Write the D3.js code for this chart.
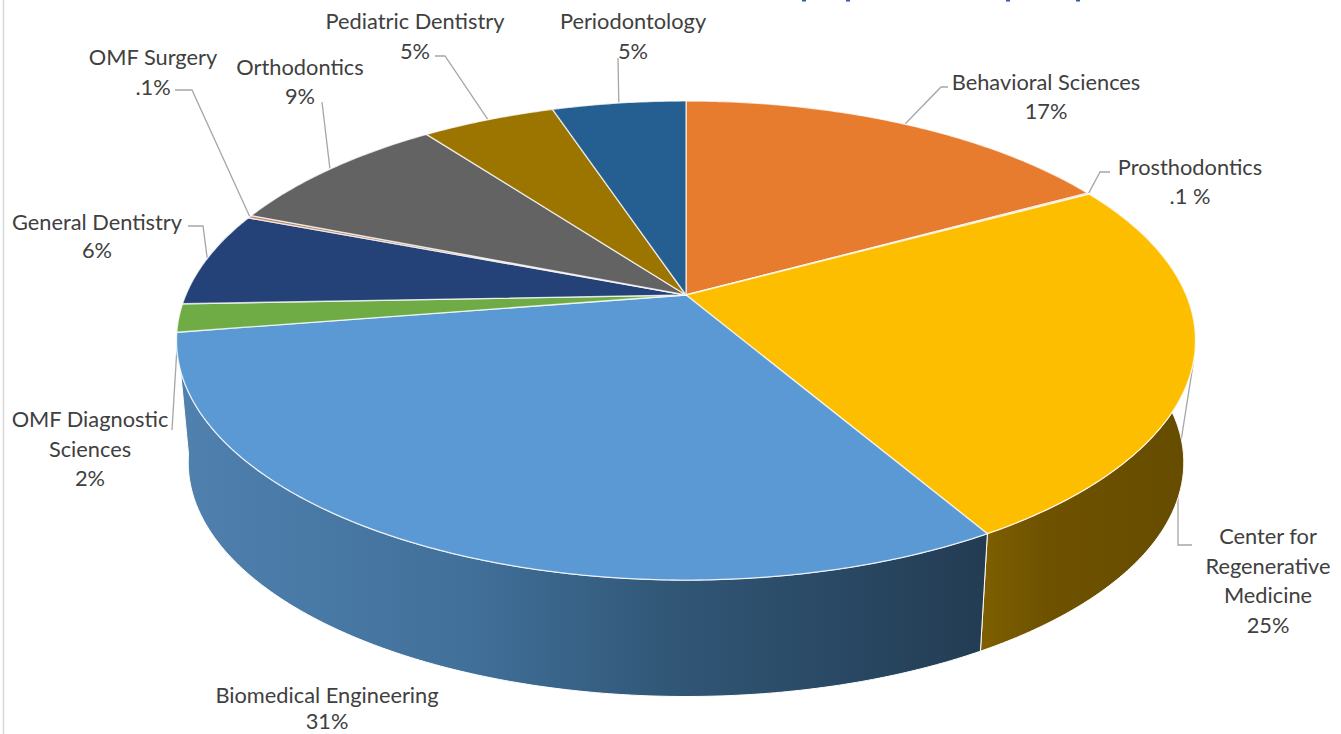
<!DOCTYPE html>
<html>
<head>
<meta charset="utf-8">
<script src="https://cdn.jsdelivr.net/npm/d3@7"></script>
<style>
  html, body { margin: 0; padding: 0; background: #fff; overflow: hidden; }
  text { font-family: Lato, "Open Sans", sans-serif; font-size: 21.8px; fill: #404040; text-anchor: middle; }
</style>
</head>
<body>
<svg id="chart" width="1341" height="734"></svg>
<script>
// clockwise from 12 o'clock
const departments = ["Behavioral Sciences", "Prosthodontics", "Center for Regenerative Medicine", "Biomedical Engineering",
    "OMF Diagnostic Sciences", "General Dentistry", "OMF Surgery", "Orthodontics", "Pediatric Dentistry", "Periodontology"]
const shares = [17, 0.1, 24.5, 30.9, 1.9, 6.4, 0.2, 8.8, 5.1, 5.1]
const shareLabels = ["17%", ".1 %", "25%", "31%", "2%", "6%", ".1%", "9%", "5%", "5%"]
const colors = ["#e77c2e", "#a5a5a5", "#fdbe00", "#5b99d4", "#6fac46", "#244278", "#c08a68", "#636363", "#9c7400", "#255e91"]

// label placement, same order as departments
const labelLines = [
    ["Behavioral Sciences"], ["Prosthodontics"], ["Center for", "Regenerative", "Medicine"], ["Biomedical Engineering"],
    ["OMF Diagnostic", "Sciences"], ["General Dentistry"], ["OMF Surgery"], ["Orthodontics"], ["Pediatric Dentistry"], ["Periodontology"]
]
const labelPos = [[1046, 90], [1190, 175], [1268, 544], [327, 703], [90, 427], [97, 230], [153, 65], [300, 75], [415, 29], [633, 29]]
const labelStep = [29, 29, 29.5, 25.5, 29.5, 28, 30, 29, 30, 30]
const leaderBends = [
    [[941, 87], [948, 87]],
    [[1100, 172], [1110, 172]],
    [[1178, 460], [1178, 545], [1192, 545]],
    null,
    [[172, 430]],
    [[203, 226], [188, 226]],
    [[192, 90], [175, 90]],
    [[322, 102]],
    [[445, 56], [435, 56]],
    [[618, 58]]
]
const titleMarks = [804, 848, 1008, 1078]

const svg = d3.select("#chart")

// flat disc seen in perspective, u to the right, v to the back
const cx = 686
const persp = 0.19
const rx = 500.2, ry = 230.9
const topY = 295, bottomY = 418
const bottomScale = 0.977

function project(a, ring) {
    const u = Math.sin(a), v = Math.cos(a)
    const s = ring == "bottom" ? bottomScale : 1
    const cy = ring == "bottom" ? bottomY : topY
    const w = 1 + persp * v
    return [cx + s * rx * u / w, cy - s * ry * v / w]
}

const line = d3.line()

function rimPoints(a0, a1, ring) {
    const n = Math.max(2, Math.ceil((a1 - a0) / 0.01))
    return d3.range(n + 1).map(i => project(a0 + (a1 - a0) * i / n, ring))
}

const arcs = d3.pie().sort(null).value(d => d)(shares)

// side gradients
const defs = svg.append("defs")
const gradBlue = defs.append("linearGradient").attr("id", "wallBlue")
    .attr("gradientUnits", "userSpaceOnUse").attr("x1", 188).attr("x2", 985).attr("y1", 0).attr("y2", 0)
gradBlue.selectAll("stop").data([[0, "#4f80ae"], [0.35, "#41709a"], [0.6, "#315777"], [1, "#233c53"]])
    .join("stop").attr("offset", d => d[0]).attr("stop-color", d => d[1])
const gradGold = defs.append("linearGradient").attr("id", "wallGold")
    .attr("gradientUnits", "userSpaceOnUse").attr("x1", 985).attr("x2", 1190).attr("y1", 0).attr("y2", 0)
gradGold.selectAll("stop").data([[0, "#7d5e00"], [0.3, "#6e5200"], [1, "#664c00"]])
    .join("stop").attr("offset", d => d[0]).attr("stop-color", d => d[1])

// frame line down the left side
svg.append("line").attr("x1", 3.5).attr("x2", 3.5).attr("y1", 0).attr("y2", 734)
    .attr("stroke", "#d9d9d9").attr("stroke-width", 1.6)

// what is left of the cropped title
svg.selectAll("rect.title-mark").data(titleMarks).join("rect")
    .attr("class", "title-mark")
    .attr("x", d => d - 2).attr("y", 0).attr("width", 4).attr("height", 1.5)
    .attr("fill", "#2f5cb0")

// leaders
svg.selectAll("path.leader").data(arcs.filter((d, i) => leaderBends[i])).join("path")
    .attr("class", "leader")
    .attr("fill", "none").attr("stroke", "#a6a6a6").attr("stroke-width", 1.3)
    .attr("d", d => line([project((d.startAngle + d.endAngle) / 2), ...leaderBends[d.index]]))

// side walls, back ones first
const wallOrder = arcs.slice().sort((a, b) =>
    Math.cos((b.startAngle + b.endAngle) / 2) - Math.cos((a.startAngle + a.endAngle) / 2))

function wallColor(d) {
    if (d.index == 3) return "url(#wallBlue)"
    if (d.index == 2) return "url(#wallGold)"
    return d3.color(colors[d.index]).darker(1).formatHex()
}

svg.selectAll("path.wall").data(wallOrder).join("path")
    .attr("class", "wall")
    .attr("fill", wallColor)
    .attr("stroke", "#fff").attr("stroke-width", 1)
    .attr("d", d => line([...rimPoints(d.startAngle, d.endAngle), ...rimPoints(d.startAngle, d.endAngle, "bottom").reverse()]) + "Z")

// top face
svg.selectAll("path.slice").data(arcs).join("path")
    .attr("class", "slice")
    .attr("fill", (d, i) => colors[i])
    .attr("stroke", "#fff").attr("stroke-width", 1.3).attr("stroke-opacity", 0.75)
    .attr("stroke-linejoin", "round")
    .attr("d", d => line([[cx, topY], ...rimPoints(d.startAngle, d.endAngle)]) + "Z")

// labels
const labels = svg.selectAll("g.label").data(departments).join("g")
    .attr("class", "label")
    .attr("transform", (d, i) => `translate(${labelPos[i][0]},${labelPos[i][1]})`)

labels.selectAll("text")
    .data((d, i) => [...labelLines[i], shareLabels[i]].map(t => ({ t, step: labelStep[i] })))
    .join("text")
    .attr("y", (d, j) => j * d.step)
    .text(d => d.t)
</script>
</body>
</html>
